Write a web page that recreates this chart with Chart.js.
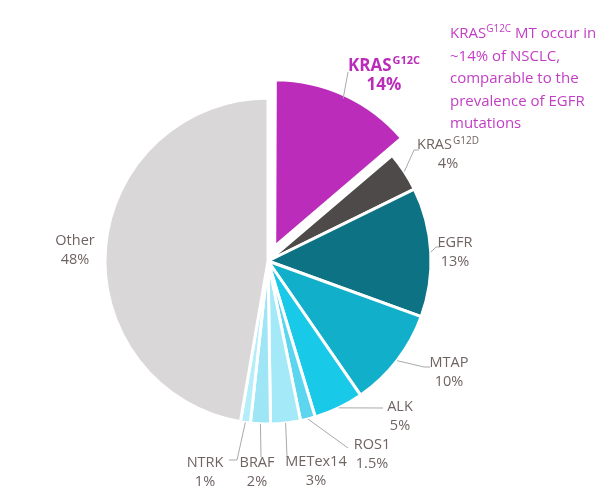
<!DOCTYPE html>
<html>
<head>
<meta charset="utf-8">
<script src="https://cdn.jsdelivr.net/npm/chart.js@4.4.1/dist/chart.umd.min.js"></script>
<style>
  body { margin: 0; background: #fff; }
  #wrap { position: relative; width: 600px; height: 498px; }
  #note {
    position: absolute; left: 450px; top: 21px;
    font-family: 'Open Sans', sans-serif; font-size: 15px; line-height: 22.5px;
    color: #c23ec4; white-space: nowrap;
  }
  #note sup { font-size: 10px; vertical-align: 6px; line-height: 0; }
</style>
</head>
<body>
<div id="wrap">
  <canvas id="pieChart" width="600" height="498"></canvas>
  <div id="note">KRAS<sup>G12C</sup> MT occur in<br>~14% of NSCLC,<br>comparable to the<br>prevalence of EGFR<br>mutations</div>
</div>
<script>
// Datos
const labels = ['KRAS', 'KRAS', 'EGFR', 'MTAP', 'ALK', 'ROS1', 'METex14', 'BRAF', 'NTRK', 'Other'];
const superscripts = ['G12C', 'G12D', '', '', '', '', '', '', '', ''];
const values = [14, 4, 13, 10, 5, 1.5, 3, 2, 1, 48];
const valueLabels = ['14%', '4%', '13%', '10%', '5%', '1.5%', '3%', '2%', '1%', '48%'];

const colors = ['#bb2cba', '#4e4a4a', '#0e7285', '#12afca', '#19c9e8', '#5cd6ef', '#a4e9f7', '#9ee6f5', '#b4eef9', '#d9d7d8'];
// desplazamiento en px (Chart.js v4 divide el offset por 4 al dibujar)
const explode = [16, 0, 0, 0, 0, 0, 0, 0, 0, 0];

// Posición de las etiquetas (centro del texto) y final de la línea guía
const labelLayout = [
    { x: 384, y: 66, leader: [[348, 72]], highlight: true },
    { x: 448, y: 145, leader: [[414, 150], [419, 150]] },
    { x: 455, y: 243, leader: [[436, 247], [440, 247]] },
    { x: 449, y: 363, leader: [[424, 367], [430, 367]] },
    { x: 400, y: 407, leader: [[383, 408]] },
    { x: 372, y: 445, leader: [[348, 448]] },
    { x: 316, y: 462, leader: [[287, 457]] },
    { x: 257, y: 463, leader: [[261, 457]] },
    { x: 205, y: 463, leader: [[237, 460], [229, 460]] },
    { x: 75, y: 241, leader: null }
];

const labelPlugin = {
    id: 'sliceLabels',
    afterDatasetsDraw(chart) {
        const ctx = chart.ctx;
        const arcs = chart.getDatasetMeta(0).data;
        ctx.save();
        arcs.forEach(function(arc, i) {
            const p = arc.getProps(['x', 'y', 'startAngle', 'endAngle', 'outerRadius']);
            const mid = (p.startAngle + p.endAngle) / 2;
            const r = p.outerRadius + explode[i];
            const lay = labelLayout[i];

            if (lay.leader) {
                ctx.strokeStyle = '#a9a9a9';
                ctx.lineWidth = 1;
                ctx.beginPath();
                ctx.moveTo(p.x + Math.cos(mid) * r, p.y + Math.sin(mid) * r);
                lay.leader.forEach(pt => ctx.lineTo(pt[0], pt[1]));
                ctx.stroke();
            }

            const big = lay.highlight;
            const mainFont = big ? 'bold 17px "Open Sans", sans-serif' : '14.5px "Open Sans", sans-serif';
            const supFont = big ? 'bold 11px "Open Sans", sans-serif' : '10px "Open Sans", sans-serif';
            ctx.fillStyle = big ? '#bb2cba' : '#6f6462';
            ctx.textBaseline = 'middle';
            ctx.textAlign = 'left';

            ctx.font = mainFont;
            const w1 = ctx.measureText(labels[i]).width;
            let w2 = 0;
            if (superscripts[i]) {
                ctx.font = supFont;
                w2 = ctx.measureText(superscripts[i]).width + 1;
            }
            const x0 = lay.x - (w1 + w2) / 2;
            ctx.font = mainFont;
            ctx.fillText(labels[i], x0, lay.y);
            if (superscripts[i]) {
                ctx.font = supFont;
                ctx.fillText(superscripts[i], x0 + w1 + 1, lay.y - (big ? 5 : 4));
            }

            ctx.font = mainFont;
            ctx.textAlign = 'center';
            ctx.fillText(valueLabels[i], lay.x, lay.y + 19);
        });
        ctx.restore();
    }
};

new Chart(document.getElementById('pieChart'), {
    type: 'pie',
    data: {
        labels: labels,
        datasets: [{
            data: values,
            backgroundColor: colors,
            borderColor: '#ffffff',
            borderWidth: 3,
            offset: explode.map(v => v * 4),
            hoverOffset: 0,
            radius: 163
        }]
    },
    options: {
        responsive: false,
        animation: false,
        layout: { padding: { left: 0, right: 64, top: 24, bottom: 0 } },
        plugins: {
            legend: { display: false },
            tooltip: { enabled: false }
        }
    },
    plugins: [labelPlugin]
});
</script>
</body>
</html>
